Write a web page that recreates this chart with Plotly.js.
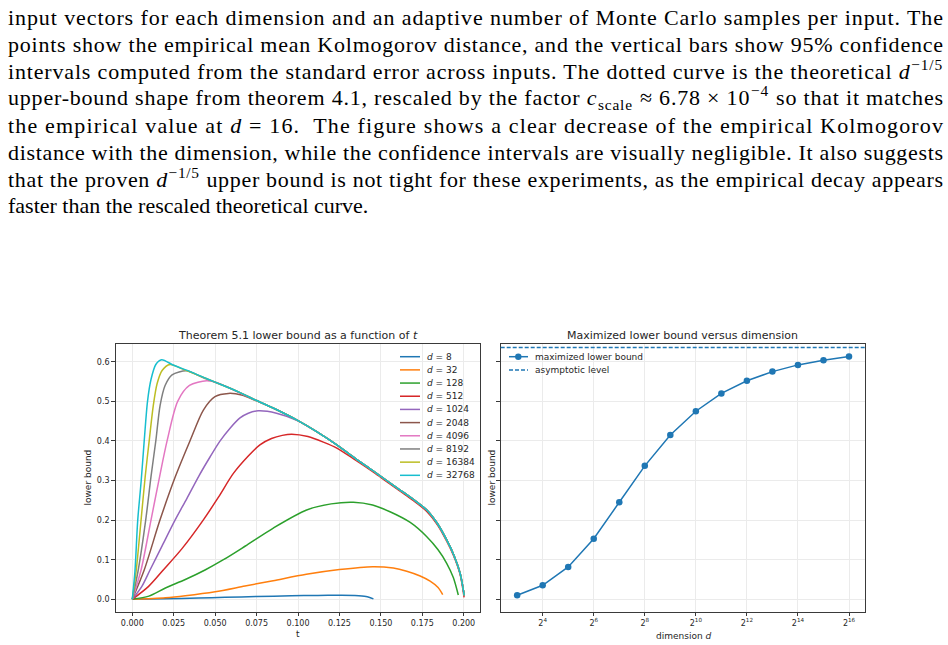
<!DOCTYPE html>
<html><head><meta charset="utf-8">
<script src="https://cdn.plot.ly/plotly-3.0.1.min.js"></script>
<style>html,body{margin:0;padding:0;background:#fff;} #chart{width:948px;height:645px;}</style>
</head><body><div id="chart"></div>
<script>
// ---------- data ----------
const dLabels = ["8","32","128","512","1024","2048","4096","8192","16384","32768"];
const lineColors = ["#1f77b4","#ff7f0e","#2ca02c","#d62728","#9467bd","#8c564b","#e377c2","#7f7f7f","#bcbd22","#17becf"];

const t_d8  = [0,0.02,0.04,0.056,0.075,0.096,0.112,0.125,0.134,0.141,0.1455];
const lb_d8 = [0,0.0012,0.003,0.005,0.007,0.0088,0.0098,0.0101,0.0096,0.0072,0.001];

const t_d32  = [0,0.02,0.032,0.05,0.068,0.085,0.105,0.125,0.145,0.1575,0.1656,0.1737,0.1797,0.1845,0.1873];
const lb_d32 = [0,0.004,0.009,0.019,0.0336,0.047,0.063,0.075,0.0825,0.079,0.071,0.059,0.046,0.030,0.012];

const t_d128  = [0,0.01,0.0197,0.032,0.0439,0.055,0.068,0.0851,0.1052,0.12,0.1334,0.145,0.1555,0.1677,0.1777,0.1845,0.1897,0.1937,0.1967];
const lb_d128 = [0,0.008,0.028,0.05,0.074,0.100,0.134,0.18,0.2255,0.241,0.245,0.238,0.221,0.194,0.158,0.125,0.091,0.055,0.011];

const t_d512  = [0,0.0097,0.0187,0.03,0.0428,0.052,0.061,0.07,0.077,0.084,0.0905,0.0962,0.106,0.1153,0.1234,0.1345,0.1455,0.1535,0.1616,0.1697,0.1777,0.184,0.1897,0.194,0.1978,0.2002];
const lb_d512 = [0,0.032,0.074,0.128,0.2,0.258,0.318,0.362,0.39,0.406,0.414,0.417,0.411,0.397,0.382,0.352,0.321,0.297,0.273,0.249,0.222,0.189,0.147,0.109,0.063,0.005];

const t_d1024  = [0,0.0057,0.0107,0.018,0.0258,0.033,0.04,0.047,0.053,0.059,0.065,0.07,0.076,0.087,0.0992,0.111,0.1234,0.1345,0.1455,0.1535,0.1616,0.1697,0.1777,0.184,0.1897,0.194,0.1978,0.2003];
const lb_d1024 = [0,0.032,0.074,0.135,0.2,0.255,0.31,0.36,0.4,0.432,0.458,0.47,0.476,0.47,0.452,0.424,0.390,0.356,0.324,0.300,0.276,0.252,0.2255,0.192,0.150,0.112,0.066,0.010];

const t_d2048  = [0,0.0072,0.0167,0.026,0.0348,0.0429,0.0499,0.058,0.066,0.075,0.0875,0.0992,0.111,0.1234,0.1345,0.1455,0.1535,0.1616,0.1697,0.1777,0.184,0.1897,0.194,0.1978,0.2003];
const lb_d2048 = [0,0.074,0.2,0.31,0.4,0.478,0.512,0.520,0.516,0.501,0.478,0.453,0.424,0.390,0.356,0.324,0.300,0.276,0.252,0.2255,0.192,0.150,0.112,0.066,0.010];

const t_d4096  = [0,0.0053,0.0113,0.0165,0.021,0.0274,0.0345,0.0449,0.052,0.058,0.065,0.075,0.0875,0.0992,0.111,0.1234,0.1345,0.1455,0.1535,0.1616,0.1697,0.1777,0.184,0.1897,0.194,0.1978,0.2003];
const lb_d4096 = [0,0.074,0.2,0.31,0.4,0.5,0.54,0.552,0.546,0.535,0.521,0.502,0.478,0.453,0.424,0.390,0.356,0.324,0.300,0.276,0.252,0.2255,0.192,0.150,0.112,0.066,0.010];

const t_d8192  = [0,0.0036,0.0081,0.0113,0.0142,0.0168,0.0198,0.024,0.0328,0.04,0.045,0.055,0.065,0.075,0.0875,0.0992,0.111,0.1234,0.1345,0.1455,0.1535,0.1616,0.1697,0.1777,0.184,0.1897,0.194,0.1978,0.2003];
const lb_d8192 = [0,0.074,0.2,0.31,0.4,0.49,0.54,0.567,0.577,0.565,0.556,0.540,0.522,0.502,0.478,0.453,0.424,0.390,0.356,0.324,0.300,0.276,0.252,0.2255,0.192,0.150,0.112,0.066,0.010];

const t_d16384  = [0,0.0024,0.0053,0.0078,0.0102,0.0127,0.015,0.018,0.0228,0.03,0.035,0.045,0.055,0.065,0.075,0.0875,0.0992,0.111,0.1234,0.1345,0.1455,0.1535,0.1616,0.1697,0.1777,0.184,0.1897,0.194,0.1978,0.2003];
const lb_d16384 = [0,0.074,0.2,0.31,0.4,0.49,0.545,0.578,0.593,0.582,0.574,0.557,0.540,0.522,0.502,0.478,0.453,0.424,0.390,0.356,0.324,0.300,0.276,0.252,0.2255,0.192,0.150,0.112,0.066,0.010];

const t_d32768  = [0,0.0016,0.0033,0.0054,0.0072,0.0092,0.0113,0.0142,0.0177,0.025,0.035,0.045,0.055,0.065,0.075,0.0875,0.0992,0.111,0.1234,0.1345,0.1455,0.1535,0.1616,0.1697,0.1777,0.184,0.1897,0.194,0.1978,0.2003];
const lb_d32768 = [0,0.07,0.2,0.3,0.4,0.5,0.555,0.593,0.605,0.591,0.575,0.557,0.540,0.522,0.502,0.478,0.453,0.424,0.390,0.356,0.324,0.300,0.276,0.252,0.2255,0.192,0.150,0.112,0.066,0.010];

const curveT  = [t_d8,t_d32,t_d128,t_d512,t_d1024,t_d2048,t_d4096,t_d8192,t_d16384,t_d32768];
const curveLB = [lb_d8,lb_d32,lb_d128,lb_d512,lb_d1024,lb_d2048,lb_d4096,lb_d8192,lb_d16384,lb_d32768];

const dims = [8,16,32,64,128,256,512,1024,2048,4096,8192,16384,32768,65536];
const maxLowerBound = [0.0101,0.0354,0.0817,0.153,0.245,0.337,0.415,0.475,0.520,0.552,0.575,0.592,0.604,0.613];
const asymptoticLevel = 0.636;
const dimTickVals = [16,64,256,1024,4096,16384,65536];
const dimTickText = ["2<sup>4</sup>","2<sup>6</sup>","2<sup>8</sup>","2<sup>10</sup>","2<sup>12</sup>","2<sup>14</sup>","2<sup>16</sup>"];

const paragraphLines = [
  "input vectors for each dimension and an adaptive number of Monte Carlo samples per input. The",
  "points show the empirical mean Kolmogorov distance, and the vertical bars show 95% confidence",
  "intervals computed from the standard error across inputs. The dotted curve is the theoretical <i>d</i><sup>−1/5</sup>",
  "upper-bound shape from theorem 4.1, rescaled by the factor <i>c</i><sub>scale</sub> ≈ 6.78 × 10<sup>−4</sup> so that it matches",
  "the empirical value at <i>d</i> = 16.  The figure shows a clear decrease of the empirical Kolmogorov",
  "distance with the dimension, while the confidence intervals are visually negligible. It also suggests",
  "that the proven <i>d</i><sup>−1/5</sup> upper bound is not tight for these experiments, as the empirical decay appears",
  "faster than the rescaled theoretical curve."
];

// ---------- layout helpers (pixel -> paper) ----------
const W = 948, H = 645;
const X = px => px / W;
const Y = py => 1 - py / H;
const FONT = "DejaVu Sans, sans-serif";
const TXT = "#262626";
const AX = "#3a3a3a";

const traces = [];
curveT.forEach((t, i) => {
  traces.push({
    type: "scatter", mode: "lines", x: t, y: curveLB[i], xaxis: "x", yaxis: "y",
    name: "d = " + dLabels[i], showlegend: false,
    line: {color: lineColors[i], width: 1.5, shape: "spline", smoothing: 0.8},
    hoverinfo: "skip"
  });
});
traces.push({
  type: "scatter", mode: "lines+markers", x: dims, y: maxLowerBound, xaxis: "x2", yaxis: "y2",
  name: "maximized lower bound", showlegend: false,
  line: {color: "#1f77b4", width: 1.5}, marker: {color: "#1f77b4", size: 6.5}
});

const axCommon = {
  showgrid: true, gridcolor: "#ebebeb", gridwidth: 1, zeroline: false,
  showline: true, mirror: true, linecolor: AX, linewidth: 1,
  ticks: "outside", ticklen: 3.5, tickwidth: 1, tickcolor: AX,
  tickfont: {family: FONT, size: 8, color: TXT}
};
const yDomain = [Y(611.7), Y(344.3)];
const yRange = [-0.0313, 0.644];

const shapes = [];
const annotations = [];

// asymptotic level (y in data units of the right subplot)
shapes.push({type: "line", xref: "x2 domain", x0: 0, x1: 1, yref: "y2", y0: asymptoticLevel, y1: asymptoticLevel,
  line: {color: "#1f77b4", width: 1.5, dash: "4px,2px"}});

// left legend (drawn manually to match compact matplotlib spacing)
dLabels.forEach((lab, i) => {
  const py = 356.7 + i * 13.18;
  shapes.push({type: "line", xref: "paper", yref: "paper", x0: X(400), x1: X(420), y0: Y(py), y1: Y(py),
    line: {color: lineColors[i], width: 1.5}});
  annotations.push({xref: "paper", yref: "paper", x: X(425), y: Y(py), xanchor: "left", yanchor: "middle",
    text: "<i>d</i> = " + lab, showarrow: false, font: {family: FONT, size: 9, color: TXT}});
});
// right legend
shapes.push({type: "line", xref: "paper", yref: "paper", x0: X(509), x1: X(528), y0: Y(356.7), y1: Y(356.7),
  line: {color: "#1f77b4", width: 1.5}});
shapes.push({type: "circle", xref: "paper", yref: "paper", x0: X(518.3 - 3.2), x1: X(518.3 + 3.2), y0: Y(356.7 + 3.2), y1: Y(356.7 - 3.2),
  fillcolor: "#1f77b4", line: {color: "#1f77b4", width: 0}});
shapes.push({type: "line", xref: "paper", yref: "paper", x0: X(509), x1: X(528), y0: Y(370), y1: Y(370),
  line: {color: "#1f77b4", width: 1.5, dash: "4px,2px"}});
annotations.push({xref: "paper", yref: "paper", x: X(533), y: Y(356.7), xanchor: "left", yanchor: "middle",
  text: "maximized lower bound", showarrow: false, font: {family: FONT, size: 9, color: TXT}});
annotations.push({xref: "paper", yref: "paper", x: X(533), y: Y(370), xanchor: "left", yanchor: "middle",
  text: "asymptotic level", showarrow: false, font: {family: FONT, size: 9, color: TXT}});

// subplot titles and axis labels
annotations.push({xref: "paper", yref: "paper", x: X(297.9), y: Y(335), xanchor: "center", yanchor: "middle",
  text: "Theorem 5.1 lower bound as a function of <i>t</i>", showarrow: false, font: {family: FONT, size: 11, color: TXT}});
annotations.push({xref: "paper", yref: "paper", x: X(682.9), y: Y(335), xanchor: "center", yanchor: "middle",
  text: "Maximized lower bound versus dimension", showarrow: false, font: {family: FONT, size: 11, color: TXT}});
annotations.push({xref: "paper", yref: "paper", x: X(298), y: Y(634), xanchor: "center", yanchor: "middle",
  text: "t", showarrow: false, font: {family: FONT, size: 9, color: TXT}});
annotations.push({xref: "paper", yref: "paper", x: X(683), y: Y(635.5), xanchor: "center", yanchor: "middle",
  text: "dimension <i>d</i>", showarrow: false, font: {family: FONT, size: 9, color: TXT}});
annotations.push({xref: "paper", yref: "paper", x: X(87.5), y: Y(478), xanchor: "center", yanchor: "middle", textangle: -90,
  text: "lower bound", showarrow: false, font: {family: FONT, size: 9, color: TXT}});
annotations.push({xref: "paper", yref: "paper", x: X(491.5), y: Y(478), xanchor: "center", yanchor: "middle", textangle: -90,
  text: "lower bound", showarrow: false, font: {family: FONT, size: 9, color: TXT}});

// paragraph (box bottoms placed from measured baselines)
const paraStart = annotations.length;
const boxBottoms = [32, 59, 85.7, 115, 140, 166.7, 193.7, 220.3];
paragraphLines.forEach((line, i) => {
  annotations.push({xref: "paper", yref: "paper", x: X(5.5), y: Y(boxBottoms[i]), xanchor: "left", yanchor: "bottom",
    align: "left", text: line, showarrow: false, font: {family: "Liberation Serif, serif", size: 22, color: "#000"}});
});

const layout = {
  width: W, height: H, autosize: false,
  margin: {l: 0, r: 0, t: 0, b: 0, pad: 0},
  paper_bgcolor: "#fff", plot_bgcolor: "#fff",
  showlegend: false,
  xaxis: Object.assign({}, axCommon, {domain: [X(115.7), X(480)], range: [-0.0100, 0.2098], anchor: "y",
    tick0: 0, dtick: 0.025, tickformat: ".3f"}),
  yaxis: Object.assign({}, axCommon, {domain: yDomain, range: yRange, anchor: "x", tick0: 0, dtick: 0.1, tickformat: ".1f"}),
  xaxis2: Object.assign({}, axCommon, {domain: [X(500.7), X(865)], type: "log", anchor: "y2",
    range: [Math.log10(2) * 2.355, Math.log10(2) * 16.627], tickmode: "array", tickvals: dimTickVals, ticktext: dimTickText}),
  yaxis2: Object.assign({}, axCommon, {domain: yDomain, range: yRange, anchor: "x2", tick0: 0, dtick: 0.1, showticklabels: false}),
  shapes: shapes,
  annotations: annotations
};

Plotly.newPlot("chart", traces, layout, {displayModeBar: false}).then(gd => {
  try {
    for (let i = 0; i < paragraphLines.length - 1; i++) {
      const g = gd.querySelector('.annotation[data-index="' + (paraStart + i) + '"] text.annotation-text');
      if (g) { g.setAttribute("textLength", "935"); g.setAttribute("lengthAdjust", "spacing"); }
    }
  } catch (e) {}
});
</script>
</body></html>
